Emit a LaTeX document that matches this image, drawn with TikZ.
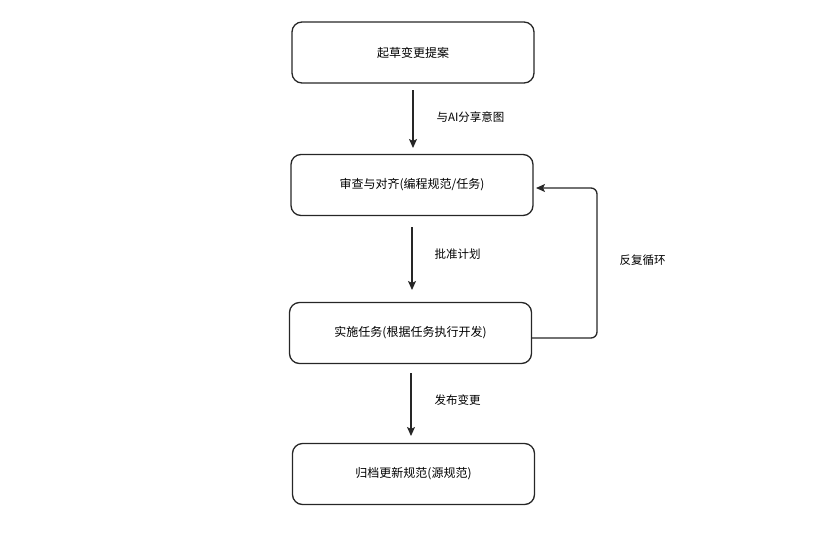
\documentclass[tikz,border=0pt]{standalone}
\usepackage{fontspec}
\setmainfont{Noto Sans CJK SC}
\usetikzlibrary{arrows.meta}
\begin{document}
\begin{tikzpicture}[x=1pt,y=-1pt,
  box/.style={draw=black!85,line width=1.3pt,rounded corners=10pt,minimum width=242pt,minimum height=61pt,font=\fontsize{12}{14}\selectfont},
  lab/.style={anchor=west,font=\fontsize{11.5}{14}\selectfont},
  arr/.style={draw=black!85,line width=1.3pt,-{Stealth[length=9pt,width=8pt,inset=2pt]}}]
\useasboundingbox (0,0) rectangle (832,549);
\node[box] (b1) at (413,52.5) {起草变更提案};
\node[box] (b2) at (412,185) {审查与对齐(编程规范/任务)};
\node[box] (b3) at (410.5,333) {实施任务(根据任务执行开发)};
\node[box] (b4) at (413.5,474) {归档更新规范(源规范)};
\coordinate (a1s) at (413,90); \coordinate (a1e) at (413,148);
\coordinate (a2s) at (412,227); \coordinate (a2e) at (412,290);
\coordinate (a3s) at (411,373); \coordinate (a3e) at (411,436);
\draw[arr] (a1s) -- (a1e);
\draw[arr] (a2s) -- (a2e);
\draw[arr] (a3s) -- (a3e);
\node[lab] (l1) at (433,117) {与\textit{AI}分享意图};
\node[lab] (l2) at (431,254) {批准计划};
\node[lab] (l3) at (431,400) {发布变更};
\coordinate (c1) at (597,338); \coordinate (c2) at (597,188);
\draw[arr,rounded corners=6pt] (b3.east) ++(0,5) -- (c1) -- (c2) -- (536,188);
\node[lab] (l4) at (616,260) {反复循环};
\end{tikzpicture}
\end{document}
